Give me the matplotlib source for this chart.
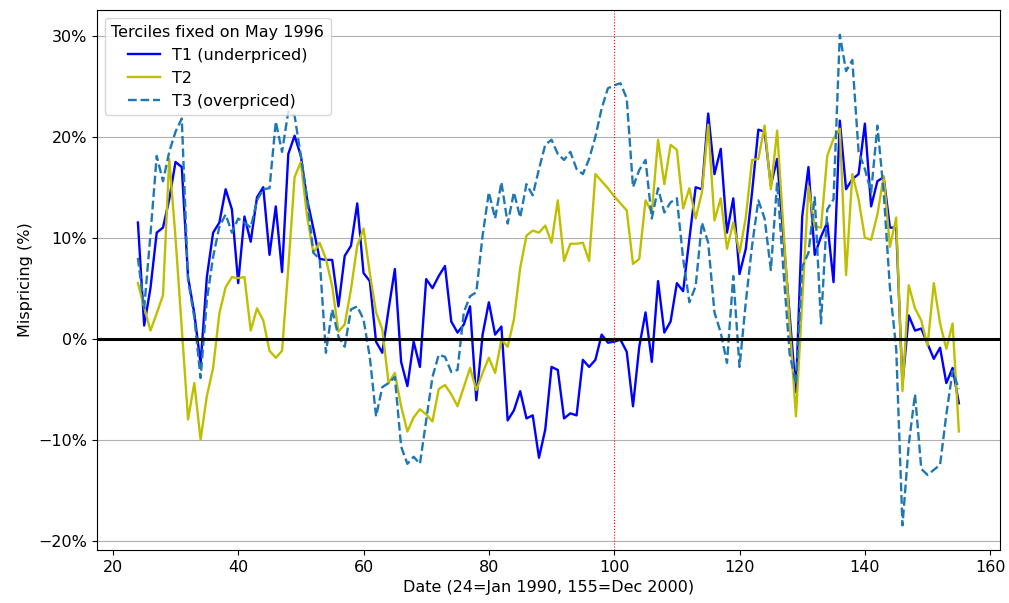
import numpy as np
import matplotlib.pyplot as plt
from matplotlib.ticker import PercentFormatter

plt.rcParams['font.size'] = 11.5

# months 24..155
dates = np.arange(24, 156)

# T1 (underpriced), in %
t1 = [11.5, 1.3, 5.0, 10.5, 11.0, 13.8, 17.5, 17.0, 6.1, 2.5,
      -2.5, 6.1, 10.5, 11.5, 14.8, 12.8, 5.5, 12.1, 9.6, 14.0,
      15.0, 8.3, 13.1, 6.6, 18.3, 20.1, 18.1, 13.8, 10.9, 7.9,
      7.8, 7.8, 3.2, 8.2, 9.2, 13.4, 6.5, 5.7, -0.3, -1.4,
      2.9, 6.9, -2.3, -4.7, -0.3, -2.8, 5.9, 5.0, 6.2, 7.2,
      1.7, 0.6, 1.4, 3.2, -6.1, 0.4, 3.6, 0.4, 1.2, -8.1,
      -7.1, -5.2, -7.9, -7.6, -11.8, -9.0, -2.8, -3.1, -7.9, -7.4,
      -7.6, -2.1, -2.8, -2.1, 0.4, -0.4, -0.3, -0.1, -1.3, -6.7,
      -0.8, 2.6, -2.3, 5.7, 0.6, 1.7, 5.5, 4.7, 9.9, 15.0,
      14.8, 22.3, 16.3, 18.8, 10.5, 13.9, 6.4, 8.9, 14.5, 20.7,
      20.5, 15.2, 17.8, 10.0, 2.3, -5.3, 12.1, 17.0, 8.3, 10.1,
      11.5, 5.6, 21.6, 14.8, 15.8, 16.3, 21.3, 13.1, 15.6, 16.0,
      11.0, 11.0, -4.5, 2.3, 0.8, 1.0, -0.5, -2.0, -0.9, -4.4,
      -2.9, -6.4]

# T2, in %
t2 = [5.5, 3.1, 0.8, 2.5, 4.3, 17.8, 10.0, 1.0, -8.0, -4.4,
      -10.0, -5.7, -2.9, 2.5, 5.1, 6.1, 6.0, 6.1, 0.8, 3.0,
      1.8, -1.2, -1.9, -1.2, 7.0, 16.0, 17.5, 12.1, 8.5, 9.5,
      7.9, 5.2, 0.7, 1.4, 4.9, 9.2, 10.9, 6.5, 2.6, 0.9,
      -4.4, -3.4, -6.7, -9.2, -7.8, -7.0, -7.5, -8.2, -5.0, -4.6,
      -5.5, -6.7, -4.8, -2.9, -5.1, -3.4, -1.9, -3.4, -0.1, -0.8,
      1.9, 7.0, 10.2, 10.7, 10.5, 11.2, 9.5, 13.7, 7.7, 9.4,
      9.4, 9.5, 7.7, 16.3, 15.6, 14.9, 14.1, 13.4, 12.7, 7.4,
      7.9, 13.7, 12.5, 19.7, 15.3, 19.2, 18.7, 12.9, 14.9, 11.9,
      14.5, 21.2, 11.7, 13.9, 8.9, 11.5, 8.5, 12.0, 17.7, 17.8,
      21.1, 14.8, 20.6, 11.0, 1.4, -7.7, 3.8, 15.1, 11.1, 11.0,
      18.1, 19.8, 20.8, 6.3, 16.3, 13.8, 10.0, 9.8, 12.3, 16.1,
      9.1, 12.0, -5.2, 5.3, 3.0, 1.8, -0.7, 5.5, 1.5, -1.0,
      1.5, -9.2]

# T3 (overpriced), in %
t3 = [8.0, 3.0, 10.3, 18.1, 15.6, 18.5, 20.5, 21.8, 5.8, 2.1,
      -3.9, 3.8, 8.1, 11.1, 12.3, 10.5, 11.9, 11.5, 11.0, 13.7,
      14.8, 14.9, 21.5, 18.5, 22.5, 22.1, 18.1, 13.9, 8.5, 7.9,
      -1.4, 2.9, 0.2, -0.8, 2.9, 3.2, 1.9, -1.8, -7.7, -4.8,
      -4.4, -3.8, -10.7, -12.4, -11.7, -12.4, -8.1, -3.8, -1.6, -1.8,
      -3.3, -3.1, 2.6, 4.2, 4.6, 10.2, 14.5, 11.9, 15.5, 11.4,
      14.5, 12.0, 15.3, 14.2, 16.8, 19.2, 19.7, 18.3, 17.7, 18.5,
      16.8, 16.3, 17.8, 20.0, 22.8, 24.8, 25.1, 25.3, 23.8, 15.0,
      16.7, 17.7, 11.9, 14.9, 12.5, 13.5, 13.9, 7.9, 3.6, 5.2,
      11.5, 9.5, 2.6, 0.6, -2.4, 6.2, -2.8, 3.6, 9.2, 13.7,
      11.9, 6.8, 15.5, 6.8, -1.5, -4.5, 7.1, 8.5, 14.0, 1.5,
      12.8, 13.8, 30.1, 26.5, 27.6, 18.5, 16.8, 14.5, 21.1, 14.5,
      5.0, -1.0, -18.5, -10.5, -5.5, -12.9, -13.5, -13.0, -12.5, -7.5,
      -3.2, -5.0]

fig, ax = plt.subplots(figsize=(10.09, 6.03), dpi=100)
fig.subplots_adjust(left=0.096, right=0.991, top=0.983, bottom=0.088)

ax.plot(dates, t1, color='blue', lw=1.7, label='T1 (underpriced)')
ax.plot(dates, t2, color='y', lw=1.7, label='T2')
ax.plot(dates, t3, color='tab:blue', ls='--', lw=1.7, label='T3 (overpriced)')

ax.axhline(0, color='black', lw=2.2)
ax.axvline(100, color='red', ls=':', lw=0.8)

ax.set_yticks([-20, -10, 0, 10, 20, 30])
ax.yaxis.set_major_formatter(PercentFormatter(decimals=0))
ax.grid(axis='y', color='#b0b0b0', lw=0.8)

ax.set_xlabel('Date (24=Jan 1990, 155=Dec 2000)')
ax.set_ylabel('Mispricing (%)')
ax.legend(title='Terciles fixed on May 1996', loc='upper left')

fig.savefig('out.png')
